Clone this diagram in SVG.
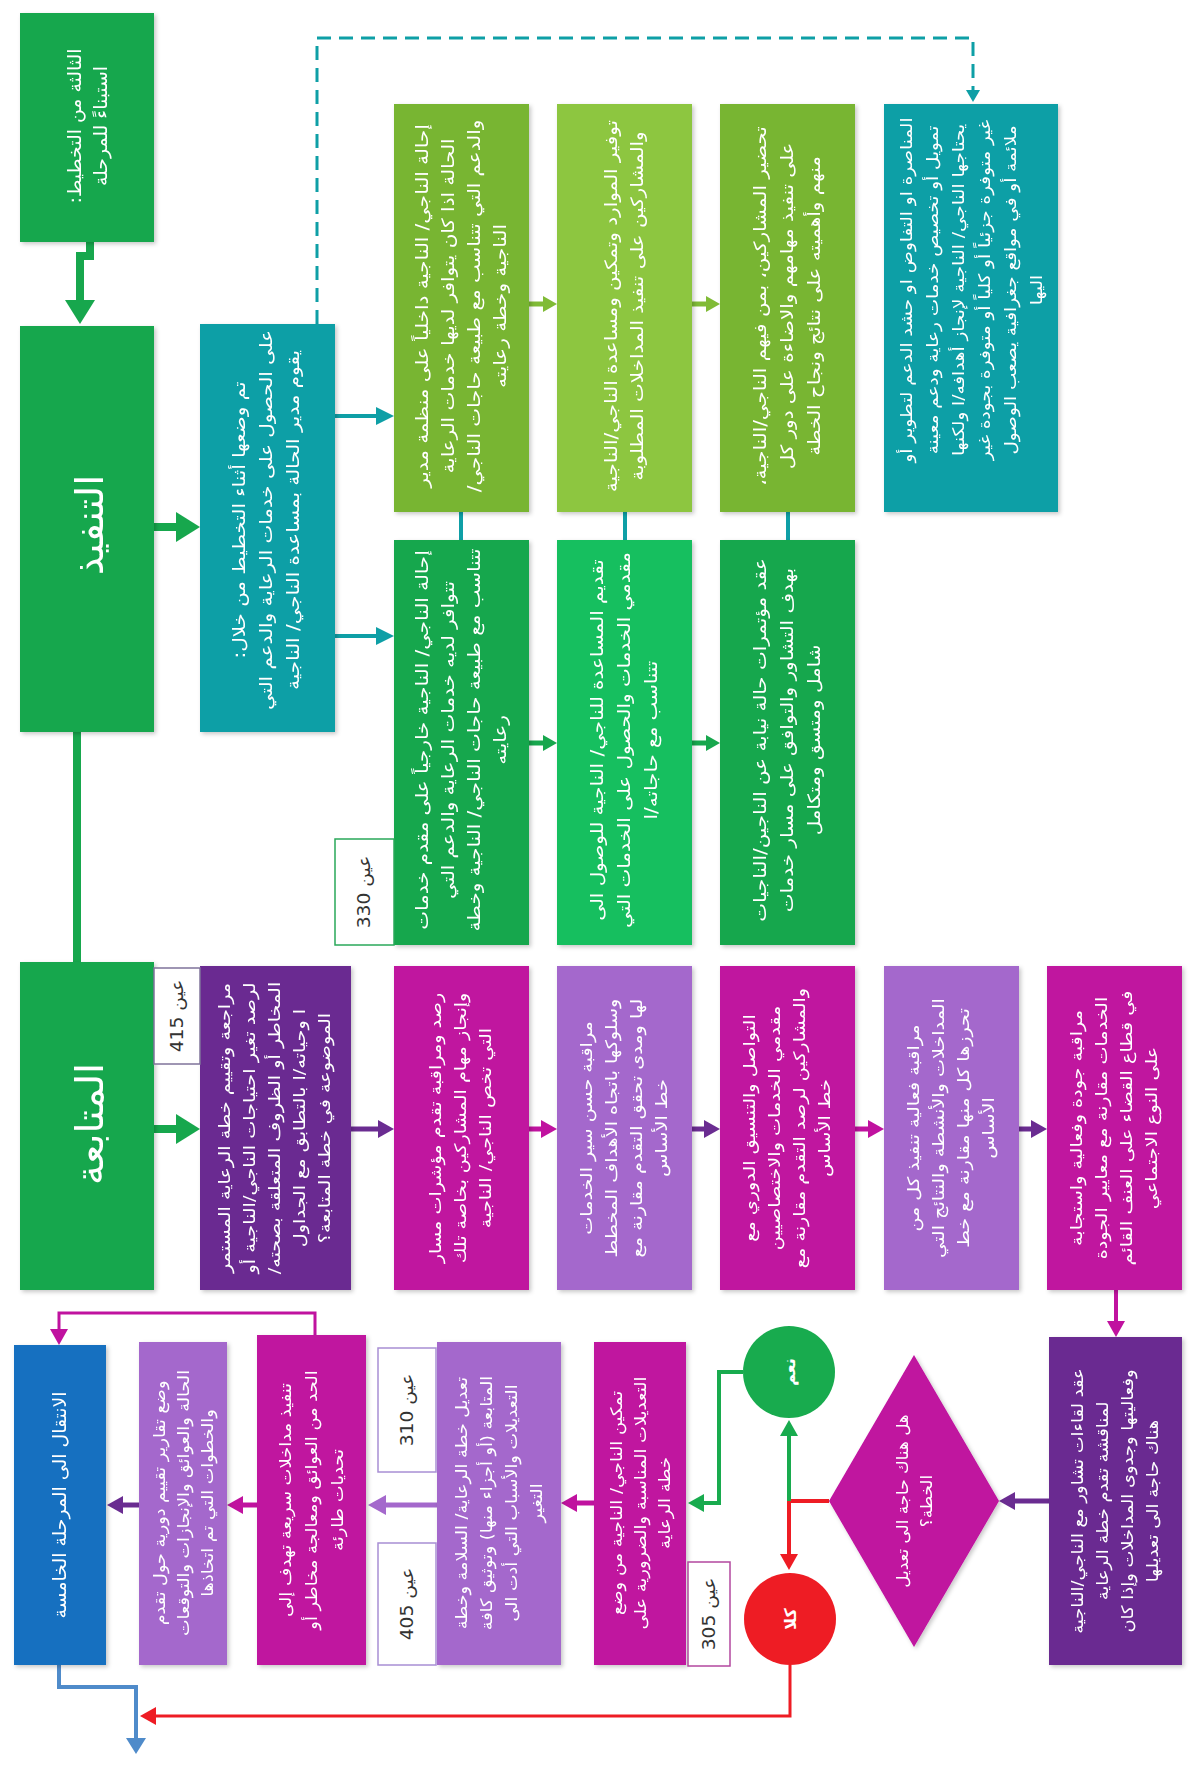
<svg xmlns="http://www.w3.org/2000/svg" width="1192" height="1765" viewBox="0 0 1192 1765">
<style>
.t{font-family:"DejaVu Sans",sans-serif;fill:#fff;text-anchor:middle;dominant-baseline:central;direction:rtl;font-size:16px}
.t tspan{dominant-baseline:central}
.f17{font-size:17px}
.lbl{font-family:"DejaVu Sans",sans-serif;fill:#333;text-anchor:middle;dominant-baseline:central;direction:rtl;font-size:17px}
.ttl{font-size:38px}
.c{fill:none;stroke-linejoin:miter}
</style>
<defs>
<filter id="sh" x="-10%" y="-10%" width="130%" height="130%"><feDropShadow dx="2" dy="2" stdDeviation="2" flood-color="#000" flood-opacity="0.22"/></filter>
<marker id="mg" viewBox="0 0 24 30" refX="0" refY="15" markerWidth="24" markerHeight="30" markerUnits="userSpaceOnUse" orient="auto"><path d="M0,0 L24,15 L0,30 z" fill="#17a74d"/></marker>
<marker id="mt" viewBox="0 0 18 18" refX="0" refY="9" markerWidth="18" markerHeight="18" markerUnits="userSpaceOnUse" orient="auto"><path d="M0,0 L18,9 L0,18 z" fill="#0e9fa6"/></marker>
<marker id="mts" viewBox="0 0 12 14" refX="0" refY="7" markerWidth="12" markerHeight="14" markerUnits="userSpaceOnUse" orient="auto"><path d="M0,0 L12,7 L0,14 z" fill="#0e9fa6"/></marker>
<marker id="mol" viewBox="0 0 14 16" refX="0" refY="8" markerWidth="14" markerHeight="16" markerUnits="userSpaceOnUse" orient="auto"><path d="M0,0 L14,8 L0,16 z" fill="#80bb36"/></marker>
<marker id="mgs" viewBox="0 0 14 16" refX="0" refY="8" markerWidth="14" markerHeight="16" markerUnits="userSpaceOnUse" orient="auto"><path d="M0,0 L14,8 L0,16 z" fill="#17a74d"/></marker>
<marker id="mp" viewBox="0 0 16 18" refX="0" refY="9" markerWidth="16" markerHeight="18" markerUnits="userSpaceOnUse" orient="auto"><path d="M0,0 L16,9 L0,18 z" fill="#6a2c91"/></marker>
<marker id="mm" viewBox="0 0 16 18" refX="0" refY="9" markerWidth="16" markerHeight="18" markerUnits="userSpaceOnUse" orient="auto"><path d="M0,0 L16,9 L0,18 z" fill="#c0129f"/></marker>
<marker id="mlp" viewBox="0 0 18 20" refX="0" refY="10" markerWidth="18" markerHeight="20" markerUnits="userSpaceOnUse" orient="auto"><path d="M0,0 L18,10 L0,20 z" fill="#a468cc"/></marker>
<marker id="mr" viewBox="0 0 16 18" refX="0" refY="9" markerWidth="16" markerHeight="18" markerUnits="userSpaceOnUse" orient="auto"><path d="M0,0 L16,9 L0,18 z" fill="#ee1c24"/></marker>
<marker id="mgc" viewBox="0 0 16 18" refX="0" refY="9" markerWidth="16" markerHeight="18" markerUnits="userSpaceOnUse" orient="auto"><path d="M0,0 L16,9 L0,18 z" fill="#18ab4e"/></marker>
<marker id="mb" viewBox="0 0 16 20" refX="0" refY="10" markerWidth="16" markerHeight="20" markerUnits="userSpaceOnUse" orient="auto"><path d="M0,0 L16,10 L0,20 z" fill="#4f8bca"/></marker>
</defs>
<rect width="1192" height="1765" fill="#fff"/>

<g id="connectors" class="c">
<path d="M90,242 V256 H80 V300" stroke="#17a74d" stroke-width="8" marker-end="url(#mg)"/>
<path d="M154,527 H176" stroke="#17a74d" stroke-width="8" marker-end="url(#mg)"/>
<path d="M77,732 V962" stroke="#17a74d" stroke-width="8"/>
<path d="M154,1129 H176" stroke="#17a74d" stroke-width="8" marker-end="url(#mg)"/>
<path d="M335,416 H376" stroke="#0e9fa6" stroke-width="4" marker-end="url(#mt)"/>
<path d="M335,636 H376" stroke="#0e9fa6" stroke-width="4" marker-end="url(#mt)"/>
<path d="M317,324 V38 H973 V90" stroke="#0e9fa6" stroke-width="3" stroke-dasharray="14 8" marker-end="url(#mts)"/>
<path d="M529,304 H543" stroke="#80bb36" stroke-width="5" marker-end="url(#mol)"/>
<path d="M692,304 H706" stroke="#80bb36" stroke-width="5" marker-end="url(#mol)"/>
<path d="M529,743 H543" stroke="#17a74d" stroke-width="5" marker-end="url(#mgs)"/>
<path d="M692,743 H706" stroke="#17a74d" stroke-width="5" marker-end="url(#mgs)"/>
<path d="M461,512 V540 M625,512 V540 M788,512 V540" stroke="#0e9fa6" stroke-width="4"/>
<path d="M351,1129 H378" stroke="#6a2c91" stroke-width="5" marker-end="url(#mp)"/>
<path d="M529,1129 H541" stroke="#c0129f" stroke-width="5" marker-end="url(#mm)"/>
<path d="M692,1129 H704" stroke="#6a2c91" stroke-width="5" marker-end="url(#mp)"/>
<path d="M855,1129 H868" stroke="#c0129f" stroke-width="5" marker-end="url(#mm)"/>
<path d="M1019,1129 H1031" stroke="#6a2c91" stroke-width="5" marker-end="url(#mp)"/>
<path d="M1116,1290 V1321" stroke="#c0129f" stroke-width="4" marker-end="url(#mm)"/>
<path d="M1049,1501 H1015" stroke="#6a2c91" stroke-width="5" marker-end="url(#mp)"/>
<path d="M829,1501 H789 V1554" stroke="#ee1c24" stroke-width="4" marker-end="url(#mr)"/>
<path d="M789,1501 V1436" stroke="#18ab4e" stroke-width="4" marker-end="url(#mgc)"/>
<path d="M743,1372 H719 V1503 H704" stroke="#18ab4e" stroke-width="4" marker-end="url(#mgc)"/>
<path d="M594,1503 H577" stroke="#c0129f" stroke-width="5" marker-end="url(#mm)"/>
<path d="M437,1505 H386" stroke="#a468cc" stroke-width="5" marker-end="url(#mlp)"/>
<path d="M257,1505 H243" stroke="#c0129f" stroke-width="5" marker-end="url(#mm)"/>
<path d="M139,1505 H123" stroke="#6a2c91" stroke-width="5" marker-end="url(#mp)"/>
<path d="M315,1335 V1313 H59 V1329" stroke="#c0129f" stroke-width="3" marker-end="url(#mm)"/>
<path d="M59,1665 V1687 H136 V1738" stroke="#4f8bca" stroke-width="4" marker-end="url(#mb)"/>
<path d="M790,1665 V1716 H156" stroke="#ee1c24" stroke-width="3" marker-end="url(#mr)"/>
</g>

<g id="n-start" filter="url(#sh)"><rect x="20" y="13" width="134" height="229" fill="#17a74d"/>
<text class="t" style="font-size:18px" transform="translate(87 126) rotate(-90) scale(1.05 1)"><tspan x="0" y="13">استبناءً للمرحلة</tspan><tspan x="0" y="-13">الثالثة من التخطيط:</tspan></text></g>

<g id="n-exec" filter="url(#sh)"><rect x="20" y="326" width="134" height="406" fill="#17a74d"/>
<text class="t ttl" transform="translate(90 525) rotate(-90) scale(1.05 1)">التنفيذ</text></g>

<g id="n-follow" filter="url(#sh)"><rect x="20" y="962" width="134" height="328" fill="#17a74d"/>
<text class="t ttl" transform="translate(90 1124) rotate(-90) scale(1.05 1)">المتابعة</text></g>

<g id="n-teal1" filter="url(#sh)"><rect x="200" y="324" width="135" height="408" fill="#0e9fa6"/>
<text class="t f17" transform="translate(266 520) rotate(-90) scale(1.17 1)"><tspan x="0" y="27">يقوم مدير الحالة بمساعدة الناجي/ الناجية</tspan><tspan x="0" y="0">على الحصول على خدمات الرعاية والدعم التي</tspan><tspan x="0" y="-27">تم وضعها أثناء التخطيط من خلال:</tspan></text></g>

<g id="n-a1" filter="url(#sh)"><rect x="394" y="104" width="135" height="408" fill="#78b530"/>
<text class="t f17" transform="translate(461 306) rotate(-90) scale(1.17 1)"><tspan x="0" y="-39">إحالة الناجي/ الناجية داخلياً على منظمة مدير</tspan><tspan x="0" y="-13">الحالة اذا كان يتوافر لديها خدمات الرعاية</tspan><tspan x="0" y="13">والدعم التي تتناسب مع طبيعة حاجات الناجي/</tspan><tspan x="0" y="39">الناجية وخطة رعايته</tspan></text></g>

<g id="n-b1" filter="url(#sh)"><rect x="557" y="104" width="135" height="408" fill="#8dc641"/>
<text class="t f17" transform="translate(624 306) rotate(-90) scale(1.17 1)"><tspan x="0" y="-13">توفير الموارد وتمكين ومساعدة الناجي/الناجية</tspan><tspan x="0" y="13">والمشاركين على تنفيذ المداخلات المطلوبة</tspan></text></g>

<g id="n-c1" filter="url(#sh)"><rect x="720" y="104" width="135" height="408" fill="#78b530"/>
<text class="t f17" transform="translate(787 306) rotate(-90) scale(1.17 1)"><tspan x="0" y="-27">تحضير المشاركين، بمن فيهم الناجي/الناجية،</tspan><tspan x="0" y="0">على تنفيذ مهامهم والاضاءة على دور كل</tspan><tspan x="0" y="27">منهم وأهميته على نتائج ونجاح الخطة</tspan></text></g>

<g id="n-teal2" filter="url(#sh)"><rect x="884" y="104" width="174" height="408" fill="#0e9fa6"/>
<text class="t" transform="translate(971 290) rotate(-90) scale(1.15 1)"><tspan x="0" y="-65">المناصرة او التفاوض او حشد الدعم لتطوير أو</tspan><tspan x="0" y="-39">تمويل أو تخصيص خدمات رعاية ودعم معينة</tspan><tspan x="0" y="-13">يحتاجها الناجي/ الناجية لإنجاز أهدافه/ا ولكنها</tspan><tspan x="0" y="13">غير متوفرة جزئياً أو كلياً أو متوفرة بجودة غير</tspan><tspan x="0" y="39">ملائمة أو في مواقع جغرافية يصعب الوصول</tspan><tspan x="0" y="65">اليها</tspan></text></g>

<g id="n-a2" filter="url(#sh)"><rect x="394" y="540" width="135" height="405" fill="#17a74d"/>
<text class="t f17" transform="translate(461 740) rotate(-90) scale(1.17 1)"><tspan x="0" y="-39">إحالة الناجي/ الناجية خارجياً على مقدم خدمات</tspan><tspan x="0" y="-13">تتوافر لديه خدمات الرعاية والدعم التي</tspan><tspan x="0" y="13">تتناسب مع طبيعة حاجات الناجي/ الناجية وخطة</tspan><tspan x="0" y="39">رعايته</tspan></text></g>

<g id="n-b2" filter="url(#sh)"><rect x="557" y="540" width="135" height="405" fill="#19bf5f"/>
<text class="t f17" transform="translate(624 740) rotate(-90) scale(1.17 1)"><tspan x="0" y="-27">تقديم المساعدة للناجي/ الناجية للوصول الى</tspan><tspan x="0" y="0">مقدمي الخدمات والحصول على الخدمات التي</tspan><tspan x="0" y="27">تتناسب مع حاجاته/ا</tspan></text></g>

<g id="n-c2" filter="url(#sh)"><rect x="720" y="540" width="135" height="405" fill="#17a74d"/>
<text class="t f17" transform="translate(787 740) rotate(-90) scale(1.17 1)"><tspan x="0" y="-27">عقد مؤتمرات حالة نيابة عن الناجين/الناجيات</tspan><tspan x="0" y="0">بهدف التشاور والتوافق على مسار خدمات</tspan><tspan x="0" y="27">شامل ومتسق ومتكامل</tspan></text></g>

<g id="l-330"><rect x="335" y="839" width="59" height="106" fill="#fff" stroke="#2aa85a" stroke-width="1.5"/>
<text class="lbl" transform="translate(364 892) rotate(-90) scale(1.1 1)">عين 330</text></g>

<g id="n-p1" filter="url(#sh)"><rect x="200" y="966" width="151" height="324" fill="#6a2c91"/>
<text class="t" transform="translate(275 1128) rotate(-90) scale(1.2 1)"><tspan x="0" y="-50">مراجعة وتقييم خطة الرعاية المستمر</tspan><tspan x="0" y="-25">لرصد تغير احتياجات الناجي/الناجية أو</tspan><tspan x="0" y="0">المخاطر أو الظروف المتعلقة بصحته/</tspan><tspan x="0" y="25">ا وحياته/ا بالتطابق مع الجداول</tspan><tspan x="0" y="50">الموضوعة في خطة المتابعة؟</tspan></text></g>

<g id="l-415"><rect x="154" y="968" width="46" height="96" fill="#fff" stroke="#7f739a" stroke-width="1.5"/>
<text class="lbl" transform="translate(177 1016) rotate(-90) scale(1.1 1)">عين 415</text></g>

<g id="n-p2" filter="url(#sh)"><rect x="394" y="966" width="135" height="324" fill="#c0129f"/>
<text class="t" transform="translate(461 1128) rotate(-90) scale(1.2 1)"><tspan x="0" y="-25">رصد ومراقبة تقدم مؤشرات مسار</tspan><tspan x="0" y="0">وإنجاز مهام المشاركين بخاصة تلك</tspan><tspan x="0" y="25">التي تخص الناجي/ الناجية</tspan></text></g>

<g id="n-p3" filter="url(#sh)"><rect x="557" y="966" width="135" height="324" fill="#a468cc"/>
<text class="t" transform="translate(624 1128) rotate(-90) scale(1.2 1)"><tspan x="0" y="-37.5">مراقبة حسن سير الخدمات</tspan><tspan x="0" y="-12.5">وسلوكها باتجاه الأهداف المخطط</tspan><tspan x="0" y="12.5">لها ومدى تحقق التقدم مقارنة مع</tspan><tspan x="0" y="37.5">خط الأساس</tspan></text></g>

<g id="n-p4" filter="url(#sh)"><rect x="720" y="966" width="135" height="324" fill="#c0129f"/>
<text class="t" transform="translate(787 1128) rotate(-90) scale(1.2 1)"><tspan x="0" y="-37.5">التواصل والتنسيق الدوري مع</tspan><tspan x="0" y="-12.5">مقدمي الخدمات والاختصاصيين</tspan><tspan x="0" y="12.5">والمشاركين لرصد التقدم مقارنة مع</tspan><tspan x="0" y="37.5">خط الأساس</tspan></text></g>

<g id="n-p5" filter="url(#sh)"><rect x="884" y="966" width="135" height="324" fill="#a468cc"/>
<text class="t" transform="translate(951 1128) rotate(-90) scale(1.2 1)"><tspan x="0" y="-37.5">مراقبة فعالية تنفيذ كل من</tspan><tspan x="0" y="-12.5">المداخلات والأنشطة والنتائج التي</tspan><tspan x="0" y="12.5">تحرزها كل منها مقارنة مع خط</tspan><tspan x="0" y="37.5">الأساس</tspan></text></g>

<g id="n-p6" filter="url(#sh)"><rect x="1047" y="966" width="135" height="324" fill="#c0129f"/>
<text class="t" transform="translate(1114 1128) rotate(-90) scale(1.2 1)"><tspan x="0" y="-37.5">مراقبة جودة وفعالية واستجابة</tspan><tspan x="0" y="-12.5">الخدمات مقارنة مع معايير الجودة</tspan><tspan x="0" y="12.5">في قطاع القضاء على العنف القائم</tspan><tspan x="0" y="37.5">على النوع الاجتماعي</tspan></text></g>

<g id="n-q1" filter="url(#sh)"><rect x="1049" y="1337" width="133" height="328" fill="#6a2c91"/>
<text class="t" transform="translate(1115 1501) rotate(-90) scale(1.12 1)"><tspan x="0" y="-37.5">عقد لقاءات تشاور مع الناجي/الناجية</tspan><tspan x="0" y="-12.5">لمناقشة تقدم خطة الرعاية</tspan><tspan x="0" y="12.5">وفعاليتها وجدوى المداخلات وإذا كان</tspan><tspan x="0" y="37.5">هناك حاجة الى تعديلها</tspan></text></g>

<g id="n-decision" filter="url(#sh)"><polygon points="829,1501 914,1355 999,1501 914,1647" fill="#c0129f"/>
<text class="t" transform="translate(914 1501) rotate(-90) scale(1.05 1)"><tspan x="0" y="-12">هل هناك حاجة الى تعديل</tspan><tspan x="0" y="12">الخطة؟</tspan></text></g>

<g id="n-yes"><circle cx="789" cy="1372" r="46" fill="#18ab4e"/>
<text class="t" style="font-weight:bold" transform="translate(789 1372) rotate(-90)">نعم</text></g>

<g id="n-no"><circle cx="790" cy="1619" r="46" fill="#ee1c24"/>
<text class="t" style="font-weight:bold" transform="translate(790 1619) rotate(-90)">كلا</text></g>

<g id="n-enable" filter="url(#sh)"><rect x="594" y="1342" width="92" height="323" fill="#c0129f"/>
<text class="t" transform="translate(640 1503) rotate(-90) scale(1.12 1)"><tspan x="0" y="-24">تمكين الناجي/ الناجية من وضع</tspan><tspan x="0" y="0">التعديلات المناسبة والضرورية على</tspan><tspan x="0" y="24">خطة الرعاية</tspan></text></g>

<g id="l-305"><rect x="688" y="1562" width="42" height="104" fill="#fff" stroke="#b3479f" stroke-width="1.5"/>
<text class="lbl" transform="translate(709 1614) rotate(-90) scale(1.1 1)">عين 305</text></g>

<g id="n-modify" filter="url(#sh)"><rect x="437" y="1342" width="124" height="323" fill="#a468cc"/>
<text class="t" transform="translate(499 1503) rotate(-90) scale(1.1 1)"><tspan x="0" y="-37.5">تعديل خطة الرعاية/ السلامة وخطة</tspan><tspan x="0" y="-12.5">المتابعة (أو أجزاء منها) وتوثيق كافة</tspan><tspan x="0" y="12.5">التعديلات والأسباب التي أدت الى</tspan><tspan x="0" y="37.5">التغير</tspan></text></g>

<g id="l-310"><rect x="378" y="1348" width="58" height="124" fill="#fff" stroke="#a88fd4" stroke-width="1.5"/>
<text class="lbl" transform="translate(407 1410) rotate(-90) scale(1.1 1)">عين 310</text></g>

<g id="l-405"><rect x="378" y="1543" width="58" height="122" fill="#fff" stroke="#a88fd4" stroke-width="1.5"/>
<text class="lbl" transform="translate(407 1604) rotate(-90) scale(1.1 1)">عين 405</text></g>

<g id="n-rapid" filter="url(#sh)"><rect x="257" y="1335" width="109" height="330" fill="#c0129f"/>
<text class="t" transform="translate(311 1500) rotate(-90) scale(1.12 1)"><tspan x="0" y="-26">تنفيذ مداخلات سريعة تهدف إلى</tspan><tspan x="0" y="0">الحد من العوائق ومعالجة مخاطر أو</tspan><tspan x="0" y="26">تحديات طارئة</tspan></text></g>

<g id="n-report" filter="url(#sh)"><rect x="139" y="1342" width="88" height="323" fill="#a468cc"/>
<text class="t" transform="translate(183 1503) rotate(-90) scale(1.1 1)"><tspan x="0" y="-24">وضع تقارير تقييم دورية حول تقدم</tspan><tspan x="0" y="0">الحالة والعوائق والإنجازات والتوقعات</tspan><tspan x="0" y="24">والخطوات التي تم اتخاذها</tspan></text></g>

<g id="n-next" filter="url(#sh)"><rect x="14" y="1345" width="92" height="320" fill="#1370c0"/>
<text class="t" style="font-size:18px" transform="translate(60 1505) rotate(-90) scale(1.05 1)">الانتقال الى المرحلة الخامسة</text></g>
</svg>
